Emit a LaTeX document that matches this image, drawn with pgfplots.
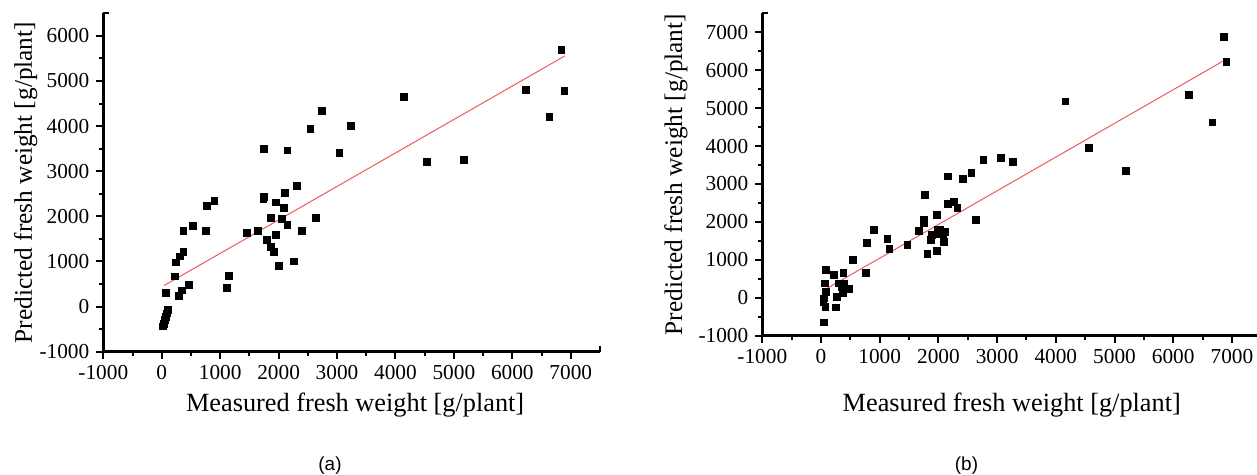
\documentclass[border=0pt]{standalone}
\usepackage{fontspec}
\setmainfont{Liberation Serif}
\newfontfamily\capfont{Liberation Sans}
\usepackage{pgfplots}
\pgfplotsset{compat=1.18}
\definecolor{fitred}{RGB}{232,92,92}
\pgfplotsset{
  fwaxis/.style={
    scale only axis, axis lines=left, axis line style={-, line width=1.35bp},
    tick style={line width=1bp, black}, tick align=outside,
    major tick length=3.5bp, minor tick length=2.2bp,
    minor x tick num=1, minor y tick num=1,
    xmin=-1000, xmax=7500, xtick={-1000,0,...,7000},
    ticklabel style={font=\rmfamily\fontsize{10.7}{12}\selectfont},
    /pgf/number format/assume math mode=true,
    /pgf/number format/1000 sep={},
    xlabel={Measured fresh weight [g/plant]},
    ylabel={Predicted fresh weight [g/plant]},
    xlabel style={font=\rmfamily\fontsize{13.2}{15}\selectfont, anchor=center},
    ylabel style={font=\rmfamily\fontsize{12.7}{15}\selectfont, anchor=center},
    clip=false,
    extra x ticks={7500}, extra x tick labels={},
    extra tick style={tick align=inside, major tick length=2.8bp},
  },
  pts/.style={only marks, mark=square*, mark size=1.7bp, black},
  fit/.style={no marks, fitred, line width=0.5bp},
}
\begin{document}
\begin{tikzpicture}
\useasboundingbox (0,0) rectangle (628.5bp,237.5bp);

% (a)
\begin{axis}[fwaxis, at={(51.65bp,61.65bp)}, anchor=south west,
  width=248.35bp, height=169.2bp,
  ymin=-1000, ymax=6500, ytick={-1000,0,...,6000},
  extra y ticks={6500}, extra y tick labels={},
  xlabel style={at={(axis description cs:0.507,-0.1575)}},
  ylabel style={at={(axis description cs:-0.156,0.5)}}]
\addplot[pts] coordinates {
(25,-440) (40,-380) (55,-300) (70,-230) (90,-150) (105,-80)
(74,300) (220,670) (245,980) (310,1110) (370,1210) (370,1670)
(300,240) (350,360) (470,480) (540,1780) (755,1670) (770,2240)
(900,2340) (1120,410) (1150,680) (1460,1630) (1650,1670)
(1745,3500) (1740,2380) (1750,2430) (1800,1480) (1870,1960)
(1870,1320) (1915,1210) (1960,2310) (1960,1590) (2005,900)
(2060,1940) (2085,2190) (2110,2520) (2150,1815) (2150,3460)
(2255,1000) (2310,2680) (2400,1680) (2545,3930) (2640,1960)
(2745,4330) (3040,3410) (3240,4000) (4145,4640) (4535,3215)
(5170,3245) (6235,4800) (6635,4210) (6840,5690) (6890,4780)
};
\addplot[fit] coordinates {(40,467) (6900,5556)};
\end{axis}

% (b)
\begin{axis}[fwaxis, at={(381.15bp,69.65bp)}, anchor=south west,
  width=249.5bp, height=161.2bp,
  ymin=-1000, ymax=7500, ytick={-1000,0,...,7000},
  extra y ticks={7500}, extra y tick labels={},
  xlabel style={at={(axis description cs:0.50,-0.215)}},
  ylabel style={at={(axis description cs:-0.173,0.5)}}]
\addplot[pts] coordinates {
(51,-649) (85,728) (62,377) (85,158) (51,-18) (40,-105) (74,-237)
(221,596) (267,26) (256,-254) (301,377) (346,290) (369,114)
(380,658) (392,377) (471,237) (539,991) (761,658) (778,1447)
(903,1781) (1130,1553) (1164,1298) (1471,1404) (1664,1763)
(1766,2702) (1755,2061) (1755,1974) (1811,1149) (1868,1518)
(1891,1649) (1970,2193) (1970,1237) (1982,1781) (2027,1781)
(2016,1693) (2084,1588) (2095,1465) (2118,1737) (2164,3202)
(2164,2482) (2266,2526) (2323,2368) (2413,3140) (2561,3298)
(2641,2061) (2765,3640) (3061,3693) (3265,3579) (4162,5175)
(4560,3947) (5191,3351) (6264,5351) (6666,4623) (6860,6886)
(6905,6228)
};
\addplot[fit] coordinates {(51,202) (6905,6289)};
\end{axis}

\node[font=\capfont\fontsize{9.5}{11}\selectfont] at (165bp,4.5bp) {(a)};
\node[font=\capfont\fontsize{9.5}{11}\selectfont] at (483.25bp,4.5bp) {(b)};
\end{tikzpicture}
\end{document}
